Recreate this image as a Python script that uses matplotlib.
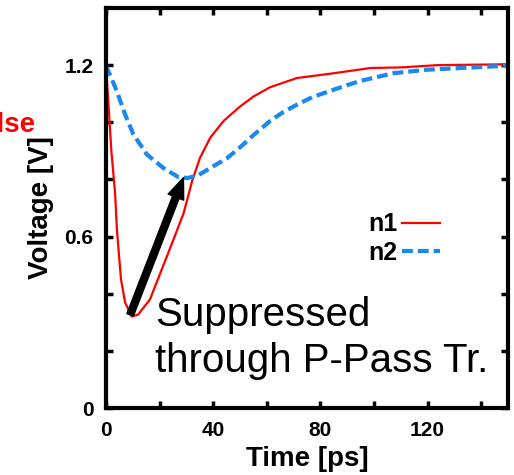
import matplotlib
matplotlib.use("Agg")
import matplotlib.pyplot as plt

plt.rcParams['font.family'] = ['Liberation Sans', 'DejaVu Sans']

# Node voltages after the pulse (time in ps, voltage in V)
t_n1 = [0, 2, 3.4, 4.1, 5.6, 7.1, 9.6, 12, 16.4, 22.7, 28.9, 32.3, 35.1, 38.9,
        43.9, 50, 55, 61.3, 71.3, 83.7, 98.7, 110, 123.6, 150]
v_n1 = [1.2, 0.9, 0.75, 0.62, 0.45, 0.37, 0.32, 0.327, 0.38, 0.53, 0.68, 0.8,
        0.876, 0.946, 1.005, 1.055, 1.09, 1.123, 1.155, 1.17, 1.19, 1.192, 1.2, 1.203]

t_n2 = [0, 4, 7.1, 10.2, 15.2, 21.4, 27, 30.5, 34.5, 38.9, 45, 50, 55, 61.3,
        66, 71.3, 77, 83.7, 90, 95, 107.4, 119.9, 132.3, 150]
v_n2 = [1.198, 1.11, 1.028, 0.958, 0.888, 0.84, 0.808, 0.805, 0.815, 0.84, 0.873,
        0.912, 0.955, 1.005, 1.035, 1.062, 1.088, 1.11, 1.13, 1.145, 1.172, 1.184,
        1.19, 1.198]

x_ticks = [0, 20, 40, 60, 80, 100, 120, 140]
x_labels = ['0', '', '40', '', '80', '', '120', '']
y_ticks = [0, 0.2, 0.4, 0.6, 0.8, 1.0, 1.2]
y_labels = ['0', '', '', '0.6', '', '', '1.2']

arrow_start = (9, 0.326)
arrow_end = (28.9, 0.806)

fig = plt.figure(figsize=(5.14, 4.75), dpi=100)
ax = fig.add_axes([106 / 514, 1 - 408 / 475, 402 / 514, 400 / 475])

ax.plot(t_n1, v_n1, color='#ff0000', lw=1.6, label='n1')
ax.plot(t_n2, v_n2, color='#1a88f0', lw=3.0, dashes=(2.6, 1.2), label='n2')

ax.set_xlim(0, 150)
ax.set_ylim(0, 1.4)
ax.set_xticks(x_ticks)
ax.set_xticklabels(x_labels)
ax.set_yticks(y_ticks)
ax.set_yticklabels(y_labels)

for s in ax.spines.values():
    s.set_linewidth(3)
ax.tick_params(direction='in', length=5, width=2.5, top=True, right=True,
               labelsize=15, pad=9)
for lab in ax.get_xticklabels() + ax.get_yticklabels():
    lab.set_fontweight('bold')

ax.set_xlabel('Time [ps]', fontsize=20, fontweight='bold', va='center')
ax.xaxis.set_label_coords(0.5, -0.128)
ax.set_ylabel('Voltage [V]', fontsize=20, fontweight='bold', va='center')
ax.yaxis.set_label_coords(-0.162, 0.5)

leg = ax.legend(loc='center right', bbox_to_anchor=(0.83, 0.424), frameon=False,
                markerfirst=False, handlelength=1.5, handletextpad=0.2,
                labelspacing=0.17, borderpad=0, borderaxespad=0,
                prop={'size': 18, 'weight': 'bold'})

ax.annotate('', xy=arrow_end, xytext=arrow_start,
            arrowprops=dict(facecolor='black', edgecolor='black', width=5.0,
                            headwidth=12, headlength=15, shrink=0))

ax.text(18.3, 0.392, 'Suppressed\nthrough P-Pass Tr.', fontsize=29,
        ha='left', va='top', linespacing=1.25)

fig.text(35 / 514, 1 - 132 / 475, 'Pulse', color='#ff0000', fontsize=20,
         fontweight='bold', ha='right', va='baseline')

fig.savefig('out.png', dpi=100)
